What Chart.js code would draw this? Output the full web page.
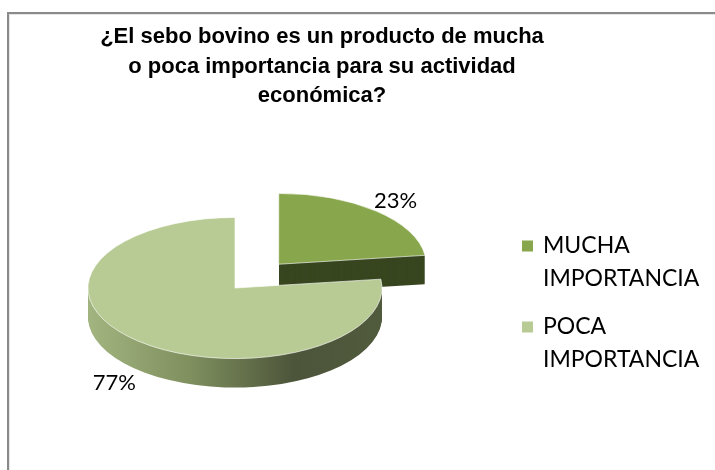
<!DOCTYPE html>
<html>
<head>
<meta charset="utf-8">
<script src="https://cdn.jsdelivr.net/npm/chart.js@4.4.1/dist/chart.umd.min.js"></script>
<style>
  html, body { margin: 0; padding: 0; background: #fff; }
  #frame {
    position: absolute; left: 7px; top: 12px; width: 720px; height: 470px;
    border-left: 2px solid #8a8a8a; border-top: 2px solid #8a8a8a;
    box-shadow: inset 1px 1px 0 #e6e6e6;
  }
  #wrap { position: absolute; left: 0; top: 0; width: 715px; height: 470px; }
</style>
</head>
<body>
<div id="frame"></div>
<div id="wrap"><canvas id="c" width="715" height="470"></canvas></div>
<script>
// Survey answers and their shares (%)
const categories = ['MUCHA IMPORTANCIA', 'POCA IMPORTANCIA'];
const legendLines = [['MUCHA', 'IMPORTANCIA'], ['POCA', 'IMPORTANCIA']];
const shares = [23, 77];
const titleLines = ['¿El sebo bovino es un producto de mucha', 'o poca importancia para su actividad', 'económica?'];

const topColors = ['#88a64c', '#b8cb94'];
const TILT = 0.48;   // vertical squash of the pie disc
const DEPTH = 29;    // thickness of the disc in pixels

function arcShift(arc) {
  const off = (arc.options.offset || 0) / 4;
  const circ = arc.endAngle - arc.startAngle;
  const fix = 1 - Math.sin(Math.min(Math.PI, circ));
  const half = (arc.startAngle + arc.endAngle) / 2;
  const d = off + off * fix;
  return { dx: Math.cos(half) * d, dy: Math.sin(half) * d };
}

function squash(ctx, cx, cy) {
  ctx.translate(cx, cy);
  ctx.scale(1, TILT);
  ctx.translate(-cx, -cy);
}

const pie3d = {
  id: 'pie3d',
  beforeDatasetsDraw(chart) {
    const ctx = chart.ctx;
    const arcs = chart.getDatasetMeta(0).data;
    const cx = arcs[0].x, cy = arcs[0].y, R = arcs[0].outerRadius;
    const sideFill = [
      () => '#384620',
      () => {
        const g = ctx.createLinearGradient(cx - R, 0, cx + R, 0);
        g.addColorStop(0, '#a2b580');
        g.addColorStop(0.35, '#7f8f5e');
        g.addColorStop(0.7, '#4c553a');
        g.addColorStop(1, '#505a3c');
        return g;
      }
    ];
    // side walls: stacked copies of each slice shifted downward
    for (let d = DEPTH; d >= 1; d--) {
      arcs.forEach((arc, i) => {
        const s = arcShift(arc);
        ctx.save();
        ctx.translate(0, d);
        squash(ctx, cx, cy);
        ctx.beginPath();
        ctx.moveTo(arc.x + s.dx, arc.y + s.dy);
        ctx.arc(arc.x + s.dx, arc.y + s.dy, arc.outerRadius, arc.startAngle, arc.endAngle);
        ctx.closePath();
        ctx.fillStyle = sideFill[i]();
        ctx.fill();
        ctx.restore();
      });
    }
    ctx.save();
    squash(ctx, cx, cy);
  },
  afterDatasetsDraw(chart) {
    chart.ctx.restore();
  },
  afterDraw(chart) {
    const ctx = chart.ctx;
    const arcs = chart.getDatasetMeta(0).data;
    const cy = arcs[0].y;
    ctx.save();
    ctx.fillStyle = '#000';
    ctx.textAlign = 'center';
    ctx.textBaseline = 'middle';
    // title
    ctx.font = 'bold 22px "Liberation Sans", Arial, sans-serif';
    titleLines.forEach((t, i) => ctx.fillText(t, 322, 37 + i * 29.5));
    // percentage labels outside each slice
    ctx.font = '22px Lato, "Open Sans", sans-serif';
    const total = shares.reduce((a, b) => a + b, 0);
    arcs.forEach((arc, i) => {
      const s = arcShift(arc);
      const half = (arc.startAngle + arc.endAngle) / 2;
      const r = arc.outerRadius * 1.22;
      const px = arc.x + s.dx + Math.cos(half) * r;
      let py = cy + (arc.y + s.dy - cy + Math.sin(half) * r) * TILT;
      if (Math.sin(half) > 0) py += DEPTH;
      ctx.fillText(Math.round(shares[i] / total * 100) + '%', px - 2, py + 1);
    });
    // legend
    ctx.textAlign = 'left';
    ctx.font = '23px Lato, "Open Sans", sans-serif';
    legendLines.forEach((lines, i) => {
      const y0 = 246 + i * 81;
      ctx.fillStyle = topColors[i];
      ctx.fillRect(522, y0 - 5.5, 11, 11);
      ctx.fillStyle = '#000';
      lines.forEach((t, j) => ctx.fillText(t, 543, y0 + j * 33));
    });
    ctx.restore();
  }
};

new Chart(document.getElementById('c'), {
  type: 'pie',
  data: {
    labels: categories,
    datasets: [{
      data: shares,
      backgroundColor: topColors,
      borderColor: 'rgba(255,255,255,0.85)',
      borderWidth: 1,
      offset: [264, 0],
      radius: 147,
      clip: false
    }]
  },
  options: {
    responsive: false,
    animation: false,
    events: [],
    layout: { padding: { left: 0, right: 245, top: 106, bottom: 0 } },
    plugins: {
      legend: { display: false },
      title: { display: false },
      tooltip: { enabled: false }
    }
  },
  plugins: [pie3d]
});
</script>
</body>
</html>
